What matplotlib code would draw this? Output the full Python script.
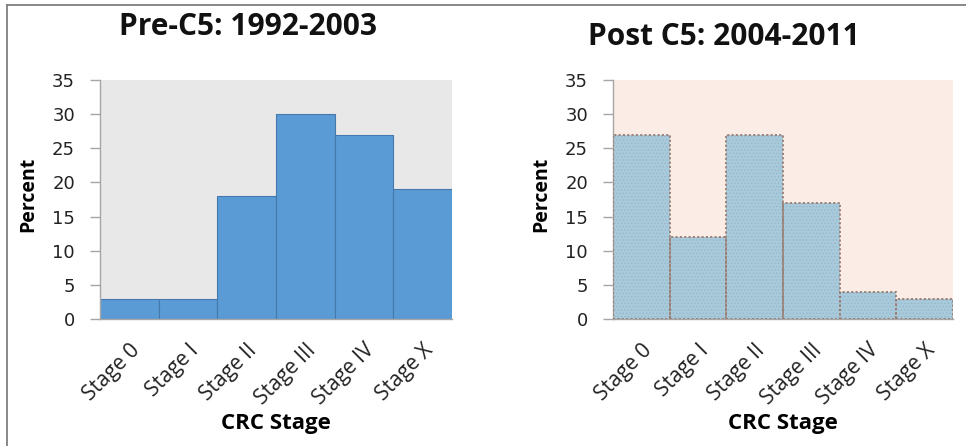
import matplotlib.pyplot as plt
from matplotlib.lines import Line2D

# data
stages = ['Stage 0', 'Stage I', 'Stage II', 'Stage III', 'Stage IV', 'Stage X']
pre_c5 = [3, 3, 18, 30, 27, 19]
post_c5 = [27, 12, 27, 17, 4, 3]
yticks = [0, 5, 10, 15, 20, 25, 30, 35]

plt.rcParams['font.family'] = ['Open Sans', 'DejaVu Sans']
plt.rcParams['hatch.linewidth'] = 0.6

fig = plt.figure(figsize=(9.66, 4.46), dpi=100)
W, H = 966, 446


def add_axes_px(x0, y0, x1, y1):
    return fig.add_axes([x0 / W, 1 - y1 / H, (x1 - x0) / W, (y1 - y0) / H])


def style_axes(ax, bg, x0, y0, x1, y1):
    ax.set_facecolor(bg)
    ax.set_xlim(-0.5, len(stages) - 0.5)
    ax.set_ylim(0, 35)
    ax.set_yticks(yticks)
    ax.set_yticklabels([str(t) for t in yticks], family='DejaVu Sans',
                       fontsize=13, color='#222222')
    ax.set_xticks(range(len(stages)))
    ax.set_xticklabels(stages, rotation=45, ha='right', va='top',
                       rotation_mode='anchor', fontsize=15, color='#222222')
    ax.tick_params(axis='x', length=0, pad=15)
    ax.tick_params(axis='y', length=7, width=1, color='#a6a6a6', pad=11)
    for s in ['top', 'right']:
        ax.spines[s].set_visible(False)
    for s in ['left', 'bottom']:
        ax.spines[s].set_color('#a6a6a6')
        ax.spines[s].set_linewidth(1)
    w, h = x1 - x0, y1 - y0
    # axis titles placed by pixel position
    ax.set_ylabel('Percent', fontsize=14, fontweight='bold', va='center')
    ax.yaxis.set_label_coords(-72 / w, (y1 - 194) / h)
    ax.set_xlabel('CRC Stage', fontsize=16, fontweight='bold', va='center')
    ax.xaxis.set_label_coords(0.5, -(423 - y1) / h)


# left panel: Pre-C5
ax1 = add_axes_px(100, 80, 452, 319)
style_axes(ax1, '#e8e8e8', 100, 80, 452, 319)
ax1.bar(range(len(stages)), pre_c5, width=1.0, color='#5b9bd5',
        edgecolor='#4579ad', linewidth=0.8, zorder=2)
fig.text(248 / W, 1 - 27 / H, 'Pre-C5: 1992-2003', ha='center', va='center',
         fontsize=21.5, fontweight='bold', color='#111111')

# right panel: Post C5
ax2 = add_axes_px(613, 80, 953, 319)
style_axes(ax2, '#fcece6', 613, 80, 953, 319)
ax2.bar(range(len(stages)), post_c5, width=1.0, color='#a9cadb',
        edgecolor='#94b8cc', hatch='.....', linewidth=0, zorder=2)
ax2.bar(range(len(stages)), post_c5, width=1.0, fill=False,
        edgecolor='#9a7d70', linestyle=(0, (1.2, 1.2)), linewidth=1.3, zorder=3)
fig.text(724 / W, 1 - 37 / H, 'Post C5: 2004-2011', ha='center', va='center',
         fontsize=21.5, fontweight='bold', color='#111111')

# frame lines at the top and left of the picture
fig.add_artist(Line2D([7 / W, 1], [1 - 5 / H, 1 - 5 / H], color='#7f7f7f', lw=1.3))
fig.add_artist(Line2D([7 / W, 7 / W], [0, 1 - 5 / H], color='#7f7f7f', lw=1.3))

fig.savefig('out.png', dpi=100)
